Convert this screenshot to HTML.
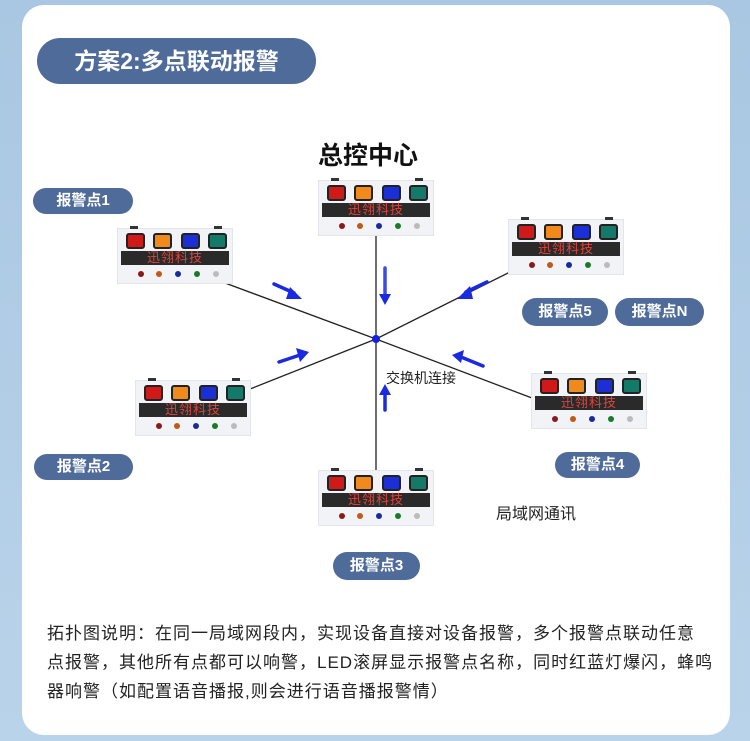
<!DOCTYPE html>
<html><head><meta charset="utf-8"><style>
*{margin:0;padding:0;box-sizing:border-box}
body{width:750px;height:741px;background:linear-gradient(180deg,#a9c7e2,#b9d3ea);position:relative;overflow:hidden;font-family:"Liberation Sans","Noto Sans CJK SC",sans-serif}
.card{position:absolute;left:22px;top:5px;width:708px;height:730px;background:#fff;border-radius:22px}
.pill{position:absolute;background:#4f6b9a;color:#fff;font-weight:bold;border-radius:16px;text-align:center}
.dev{position:absolute;width:116px;height:56px;background:#f1f3f6;border:1px solid #e2e5ea}
.dev .l{position:absolute;top:4px;width:19px;height:16px;border:2px solid #222;border-radius:3px}
.dev .bar{position:absolute;left:3px;right:3px;top:22px;height:14px;background:#2a2a2a;color:#e2443a;font-size:13px;line-height:14px;text-align:center;letter-spacing:1px}
.dev .d{position:absolute;top:42px;width:6px;height:6px;border-radius:50%}
.dev .t{position:absolute;top:-3px;width:8px;height:3px;background:#333}
.txt{position:absolute;font-size:16px;color:#222;white-space:nowrap}
</style></head><body>
<div class="card"></div>
<div class="pill" style="left:37px;top:38px;width:279px;height:46px;border-radius:23px;font-size:23px;line-height:46px">方案2:多点联动报警</div>
<div class="txt" style="left:318px;top:136px;font-size:25px;font-weight:bold;color:#111">总控中心</div>

<svg style="position:absolute;left:0;top:0" width="750" height="741">
<g stroke="#222" stroke-width="1.3">
<line x1="376" y1="236" x2="376" y2="470"/>
<line x1="225" y1="283" x2="376" y2="339"/>
<line x1="510" y1="272" x2="376" y2="339"/>
<line x1="250" y1="389" x2="376" y2="339"/>
<line x1="532" y1="398" x2="376" y2="339"/>
</g>
<circle cx="376" cy="339" r="4" fill="#1520e0"/>
<g fill="none" stroke="#1a2ae0" stroke-width="3.5" stroke-linecap="round">
<path d="M385 268 V296" stroke-opacity="0.85"/><path d="M385 410 V392"/>
<path d="M274 284 L294 293"/><path d="M487 282 L466 292"/>
<path d="M279 362 L300 355"/><path d="M483 366 L461 357"/>
</g>
<g fill="#1a2ae0">
<path d="M379 294 L391 294 L385 305Z"/><path d="M379 395 L391 395 L385 384Z"/>
<path d="M290 287 L302 299 L286 299Z"/>
<path d="M470 286 L457 299 L473 299Z"/>
<path d="M296 348 L309 352 L300 362Z"/>
<path d="M464 350 L452 355 L461 363Z"/>
</g>
</svg>

<div class="txt" style="left:386px;top:368px;font-size:14px">交换机连接</div>
<div class="txt" style="left:496px;top:500px;font-size:16px">局域网通讯</div>

<div class="pill" style="left:33px;top:188px;width:100px;height:26px;line-height:26px;font-size:15px;border-radius:13px">报警点1</div>
<div class="pill" style="left:522px;top:298px;width:86px;height:28px;line-height:28px;font-size:15px;border-radius:14px">报警点5</div>
<div class="pill" style="left:615px;top:298px;width:89px;height:28px;line-height:28px;font-size:15px;border-radius:14px">报警点N</div>
<div class="pill" style="left:34px;top:454px;width:99px;height:26px;line-height:26px;font-size:15px;border-radius:13px">报警点2</div>
<div class="pill" style="left:555px;top:452px;width:85px;height:26px;line-height:26px;font-size:15px;border-radius:13px">报警点4</div>
<div class="pill" style="left:333px;top:552px;width:87px;height:28px;line-height:28px;font-size:15px;border-radius:14px">报警点3</div>

<div class="dev" style="left:318px;top:180px"><div class="t" style="left:12px"></div><div class="t" style="left:96px"></div><div class="l" style="left:8px;background:#d01a1a"></div><div class="l" style="left:35px;background:#f08a1c"></div><div class="l" style="left:63px;background:#1c2ed8"></div><div class="l" style="left:90px;background:#137a6a"></div><div class="bar">迅翎科技</div><div class="d" style="left:20px;background:#8a1a1a"></div><div class="d" style="left:38px;background:#c05a1a"></div><div class="d" style="left:57px;background:#1a2a9a"></div><div class="d" style="left:76px;background:#1a7a2a"></div><div class="d" style="left:95px;background:#bbb"></div></div>
<div class="dev" style="left:117px;top:228px"><div class="t" style="left:12px"></div><div class="t" style="left:96px"></div><div class="l" style="left:8px;background:#d01a1a"></div><div class="l" style="left:35px;background:#f08a1c"></div><div class="l" style="left:63px;background:#1c2ed8"></div><div class="l" style="left:90px;background:#137a6a"></div><div class="bar">迅翎科技</div><div class="d" style="left:20px;background:#8a1a1a"></div><div class="d" style="left:38px;background:#c05a1a"></div><div class="d" style="left:57px;background:#1a2a9a"></div><div class="d" style="left:76px;background:#1a7a2a"></div><div class="d" style="left:95px;background:#bbb"></div></div>
<div class="dev" style="left:508px;top:219px"><div class="t" style="left:12px"></div><div class="t" style="left:96px"></div><div class="l" style="left:8px;background:#d01a1a"></div><div class="l" style="left:35px;background:#f08a1c"></div><div class="l" style="left:63px;background:#1c2ed8"></div><div class="l" style="left:90px;background:#137a6a"></div><div class="bar">迅翎科技</div><div class="d" style="left:20px;background:#8a1a1a"></div><div class="d" style="left:38px;background:#c05a1a"></div><div class="d" style="left:57px;background:#1a2a9a"></div><div class="d" style="left:76px;background:#1a7a2a"></div><div class="d" style="left:95px;background:#bbb"></div></div>
<div class="dev" style="left:135px;top:380px"><div class="t" style="left:12px"></div><div class="t" style="left:96px"></div><div class="l" style="left:8px;background:#d01a1a"></div><div class="l" style="left:35px;background:#f08a1c"></div><div class="l" style="left:63px;background:#1c2ed8"></div><div class="l" style="left:90px;background:#137a6a"></div><div class="bar">迅翎科技</div><div class="d" style="left:20px;background:#8a1a1a"></div><div class="d" style="left:38px;background:#c05a1a"></div><div class="d" style="left:57px;background:#1a2a9a"></div><div class="d" style="left:76px;background:#1a7a2a"></div><div class="d" style="left:95px;background:#bbb"></div></div>
<div class="dev" style="left:531px;top:373px"><div class="t" style="left:12px"></div><div class="t" style="left:96px"></div><div class="l" style="left:8px;background:#d01a1a"></div><div class="l" style="left:35px;background:#f08a1c"></div><div class="l" style="left:63px;background:#1c2ed8"></div><div class="l" style="left:90px;background:#137a6a"></div><div class="bar">迅翎科技</div><div class="d" style="left:20px;background:#8a1a1a"></div><div class="d" style="left:38px;background:#c05a1a"></div><div class="d" style="left:57px;background:#1a2a9a"></div><div class="d" style="left:76px;background:#1a7a2a"></div><div class="d" style="left:95px;background:#bbb"></div></div>
<div class="dev" style="left:318px;top:470px"><div class="t" style="left:12px"></div><div class="t" style="left:96px"></div><div class="l" style="left:8px;background:#d01a1a"></div><div class="l" style="left:35px;background:#f08a1c"></div><div class="l" style="left:63px;background:#1c2ed8"></div><div class="l" style="left:90px;background:#137a6a"></div><div class="bar">迅翎科技</div><div class="d" style="left:20px;background:#8a1a1a"></div><div class="d" style="left:38px;background:#c05a1a"></div><div class="d" style="left:57px;background:#1a2a9a"></div><div class="d" style="left:76px;background:#1a7a2a"></div><div class="d" style="left:95px;background:#bbb"></div></div>

<div class="txt" style="left:47px;top:619px;line-height:29px;font-size:17px;letter-spacing:1px;color:#222">拓扑图说明：在同一局域网段内，实现设备直接对设备报警，多个报警点联动任意<br>点报警，其他所有点都可以响警，LED滚屏显示报警点名称，同时红蓝灯爆闪，蜂鸣<br>器响警（如配置语音播报,则会进行语音播报警情）</div>
</body></html>
